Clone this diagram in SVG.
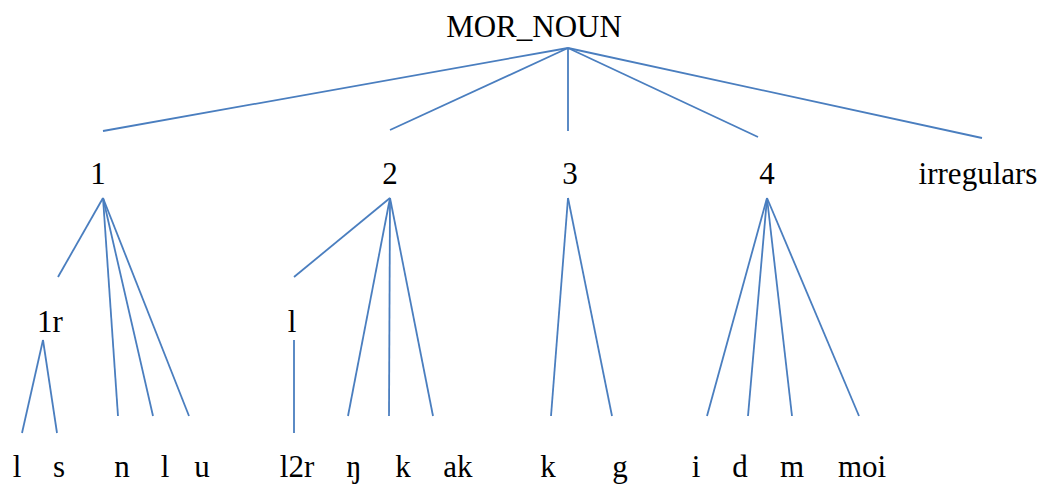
<svg xmlns="http://www.w3.org/2000/svg" width="1042" height="484" viewBox="0 0 1042 484">
  <style>
    .lbl { font-family: 'Liberation Serif', 'Times New Roman', serif; font-size: 31px; fill: #000; text-anchor: middle; }
    #edges line { stroke: #4A7EBF; stroke-width: 1.8; }
  </style>
  <rect width="1042" height="484" fill="#fff"/>
  <g id="edges">
    <!-- MOR_NOUN to classes -->
    <line x1="568" y1="48" x2="103" y2="131"/>
    <line x1="568" y1="48" x2="390" y2="130"/>
    <line x1="568" y1="48" x2="568" y2="131"/>
    <line x1="568" y1="48" x2="758" y2="137"/>
    <line x1="568" y1="48" x2="982" y2="138"/>
    <!-- class 1 -->
    <line x1="103" y1="198" x2="58" y2="277"/>
    <line x1="103" y1="198" x2="118" y2="416"/>
    <line x1="103" y1="198" x2="153" y2="416"/>
    <line x1="103" y1="198" x2="189" y2="416"/>
    <line x1="43" y1="340" x2="22" y2="433"/>
    <line x1="43" y1="340" x2="57" y2="433"/>
    <!-- class 2 -->
    <line x1="390" y1="198" x2="294" y2="277"/>
    <line x1="390" y1="198" x2="348" y2="416"/>
    <line x1="390" y1="198" x2="389" y2="416"/>
    <line x1="390" y1="198" x2="433" y2="416"/>
    <line x1="294" y1="340" x2="294" y2="433"/>
    <!-- class 3 -->
    <line x1="568" y1="198" x2="551" y2="416"/>
    <line x1="568" y1="198" x2="612" y2="416"/>
    <!-- class 4 -->
    <line x1="767" y1="198" x2="707" y2="416"/>
    <line x1="767" y1="198" x2="748" y2="416"/>
    <line x1="767" y1="198" x2="792" y2="416"/>
    <line x1="767" y1="198" x2="859" y2="416"/>
  </g>
  <g id="root"><text class="lbl" x="534" y="37">MOR_NOUN</text></g>
  <g id="c1"><text class="lbl" x="98" y="184">1</text></g>
  <g id="c2"><text class="lbl" x="390" y="184">2</text></g>
  <g id="c3"><text class="lbl" x="570" y="184">3</text></g>
  <g id="c4"><text class="lbl" x="767" y="184">4</text></g>
  <g id="irr"><text class="lbl" x="978" y="184">irregulars</text></g>
  <g id="c1r"><text class="lbl" x="50" y="332">1r</text></g>
  <g id="c2l"><text class="lbl" x="292" y="332">l</text></g>
  <g id="leaf-l"><text class="lbl" x="17" y="477">l</text></g>
  <g id="leaf-s"><text class="lbl" x="59" y="477">s</text></g>
  <g id="leaf-n"><text class="lbl" x="122" y="477">n</text></g>
  <g id="leaf-l1"><text class="lbl" x="165" y="477">l</text></g>
  <g id="leaf-u"><text class="lbl" x="202" y="477">u</text></g>
  <g id="leaf-l2r"><text class="lbl" x="297" y="477">l2r</text></g>
  <g id="leaf-ng"><text class="lbl" x="354" y="477">ŋ</text></g>
  <g id="leaf-k"><text class="lbl" x="403" y="477">k</text></g>
  <g id="leaf-ak"><text class="lbl" x="458" y="477">ak</text></g>
  <g id="leaf-k3"><text class="lbl" x="548" y="477">k</text></g>
  <g id="leaf-g"><text class="lbl" x="620" y="477">g</text></g>
  <g id="leaf-i"><text class="lbl" x="696" y="477">i</text></g>
  <g id="leaf-d"><text class="lbl" x="740" y="477">d</text></g>
  <g id="leaf-m"><text class="lbl" x="792" y="477">m</text></g>
  <g id="leaf-moi"><text class="lbl" x="862" y="477">moi</text></g>
</svg>
